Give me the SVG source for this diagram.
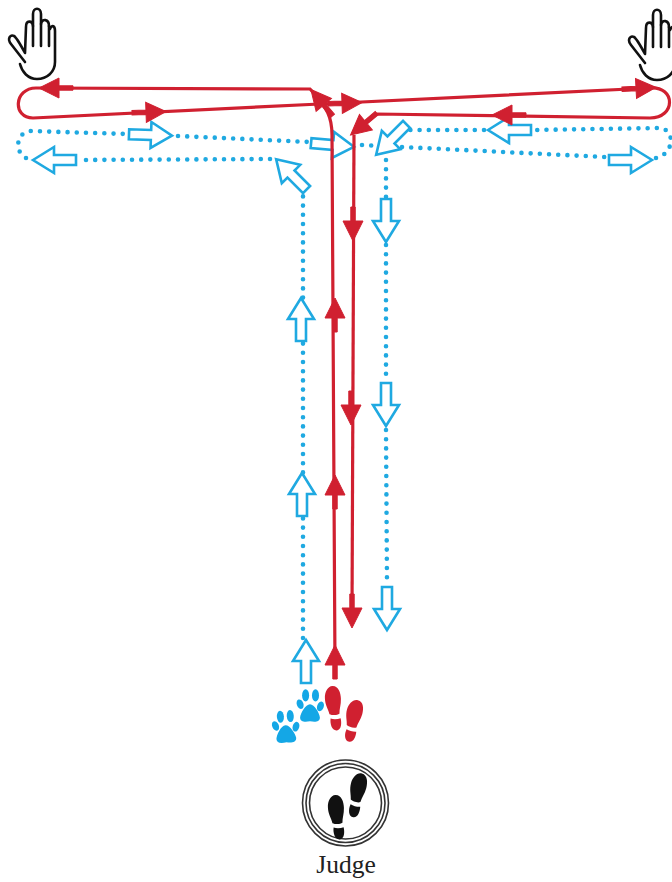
<svg xmlns="http://www.w3.org/2000/svg" width="672" height="882" viewBox="0 0 672 882">
<style>
.red{fill:none;stroke:#d02030;stroke-width:3.2}
.rh{fill:#d02030;stroke:#d02030;stroke-width:1;stroke-linejoin:miter}
.dot{fill:none;stroke:#1fa9e1;stroke-width:4.6;stroke-linecap:round;stroke-dasharray:0 9.2}
.ba{fill:#fff;stroke:#1fa9e1;stroke-width:2.6;stroke-linejoin:miter}
.hand{fill:#fff;stroke:#111;stroke-width:2.6;stroke-linejoin:round;stroke-linecap:round}
.paw{fill:#14a7e6}.shoe{fill:#d02030}.blk{fill:#111}
.ring{fill:none;stroke:#333;stroke-width:1.6}
</style>
<defs>
<polygon id="ra" class="rh" points="0,-11 10,9 2.2,9 2.2,23 -2.2,23 -2.2,9 -10,9"/>
<polygon id="ba" class="ba" points="0,-21 13,0 5,0 5,22 -5,22 -5,0 -13,0"/>
<g id="hnd">
<path class="hand" d="M25 62 L11 44 C7 39 10 34 14 36 C16 37 18 40 25 53 L26 27 C26 20 32 20 33 26 L33 14 C33 7 41 7 41 14 L41 24 C42 18 49 19 49 26 L50 29 C52 24 55 26 55 31 L55 62 C55 72 47 79 37 79 C28 79 22 72 20 64"/>
<path class="hand" fill="none" d="M33 26 L33 46 M41 24 L41 46 M49 26 L49 46"/>
</g>
<g id="shoeprint">
<path d="M0 -15 C6 -15 8 -8 8 -2 C8 4 6 8 6 13 C3 15 -2 14 -4 13 C-5 8 -8 4 -8 -3 C-8 -9 -5 -15 0 -15Z"/>
<path d="M-3 17.500 C0 18.500 4 18.500 7 17.500 C8 22 7.500 29 3 29.500 C-2 30 -4 23 -3 17.500Z"/>
</g>
<g id="pawp">
<path d="M0 -8 C4 -8 8.500 0 9 4 C9 8 5 8.500 0 7.500 C-5 8.500 -9 8 -9 4 C-8.500 0 -4 -8 0 -8Z"/>
<ellipse cx="-9" cy="-8" rx="3" ry="4.500" transform="rotate(-20 -9 -8)"/><ellipse cx="-4" cy="-16" rx="3.200" ry="5.500"/><ellipse cx="5" cy="-16" rx="3.200" ry="5.500"/><ellipse cx="9.500" cy="-6" rx="3" ry="4.500" transform="rotate(20 9.500 -6)"/>
</g>
</defs>
<g id="connectors">
<g id="blue-route">
<path class="dot" d="M303 638 L303 192"/>
<path class="dot" d="M270 159 L78 160"/>
<path class="dot" d="M26 158 C15 153 15 133 30 131 L127 134"/>
<path class="dot" d="M178 136 L310 142"/>
<path class="dot" d="M362 145 L382 146"/>
<path class="dot" d="M402 147 L605 157"/>
<path class="dot" d="M656 158 C674 154 676 130 660 128 L534 130"/>
<path class="dot" d="M484 130 L410 130"/>
<path class="dot" d="M386 160 L386 198"/>
<path class="dot" d="M386 245 L386 380"/>
<path class="dot" d="M386 430 L387 585"/>
<use href="#ba" transform="translate(301,319)"/>
<use href="#ba" transform="translate(302,494)"/>
<use href="#ba" transform="translate(306,661)"/>
<use href="#ba" transform="translate(386,221) rotate(180)"/>
<use href="#ba" transform="translate(386,405) rotate(180)"/>
<use href="#ba" transform="translate(387,609) rotate(180)"/>
<use href="#ba" transform="translate(54,160) rotate(-90)"/>
<use href="#ba" transform="translate(151,135) rotate(92)"/>
<use href="#ba" transform="translate(333,145) rotate(95)"/>
<use href="#ba" transform="translate(509,130) rotate(-90)"/>
<use href="#ba" transform="translate(631,160) rotate(90)"/>
<use href="#ba" transform="translate(291,174) rotate(-45)"/>
<use href="#ba" transform="translate(391,140) rotate(-135)"/>
</g>
<g id="red-route">
<path class="red" d="M335 670 L332 135 C332 118 328 108 310 89 L36 88 C14 88 12 118 33 118 L320 104 L650 88 C676 86 676 118 650 118 L376 114 L356 131"/>
<path class="red" d="M354 135 L352 615"/>
<use href="#ra" transform="translate(335,309)"/>
<use href="#ra" transform="translate(335,486)"/>
<use href="#ra" transform="translate(335,656)"/>
<use href="#ra" transform="translate(353,230) rotate(180)"/>
<use href="#ra" transform="translate(351,414) rotate(180)"/>
<use href="#ra" transform="translate(352,617) rotate(180)"/>
<use href="#ra" transform="translate(50,88) rotate(-90)"/>
<use href="#ra" transform="translate(155,112) rotate(88)"/>
<use href="#ra" transform="translate(351,103) rotate(88)"/>
<use href="#ra" transform="translate(645,88) rotate(87)"/>
<use href="#ra" transform="translate(503,115) rotate(-90)"/>
<use href="#ra" transform="translate(318,98) rotate(-40)"/>
<use href="#ra" transform="translate(359,128) rotate(-130)"/>
</g>
</g>
<g id="hand-left"><use href="#hnd"/></g>
<g id="hand-right"><use href="#hnd" x="620" y="1"/></g>
<g id="dog-prints" class="paw">
<use href="#pawp" transform="translate(310,713) scale(1.1)"/>
<use href="#pawp" transform="translate(286,734) rotate(-4) scale(1.1)"/>
</g>
<g id="handler-prints" class="shoe">
<use href="#shoeprint" transform="translate(333,701) rotate(-2)"/>
<use href="#shoeprint" transform="translate(354,714) scale(1,.95) rotate(15)"/>
</g>
<g id="judge">
<circle class="ring" cx="345.500" cy="803" r="43"/><circle class="ring" cx="345.500" cy="803" r="39.500"/><circle class="ring" cx="345.500" cy="803" r="36"/>
<g class="blk">
<use href="#shoeprint" transform="translate(336,810) rotate(-2)"/>
<use href="#shoeprint" transform="translate(358,788) rotate(15)"/>
</g>
<text x="346" y="873" text-anchor="middle" font-family="'Liberation Serif',serif" font-size="25.500" fill="#222">Judge</text>
</g>
</svg>
